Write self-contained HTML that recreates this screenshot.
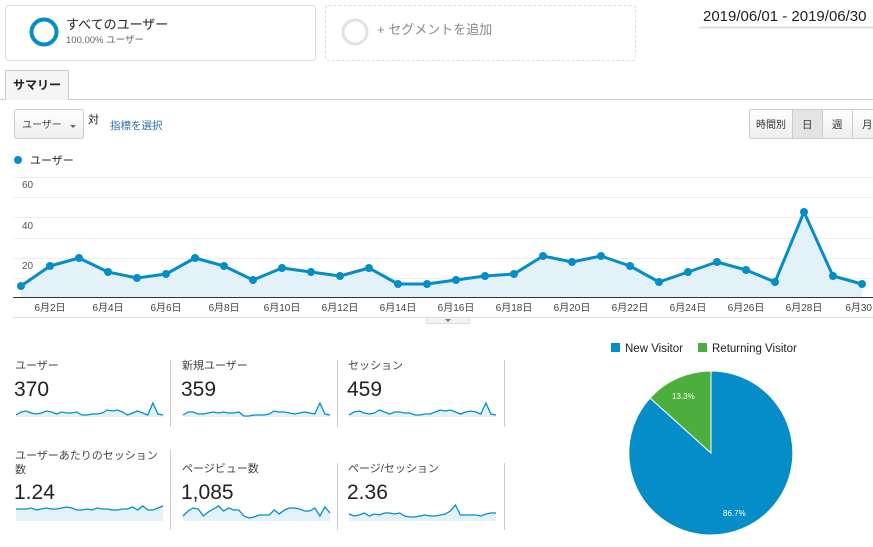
<!DOCTYPE html>
<html><head><meta charset="utf-8"><style>
body{margin:0;background:#fff;width:873px;height:542px;overflow:hidden;font-family:"Liberation Sans","Noto Sans CJK JP",sans-serif}
svg text{font-family:"Liberation Sans","Noto Sans CJK JP",sans-serif}
</style></head><body>
<svg id="s" width="873" height="542" viewBox="0 0 873 542" xmlns="http://www.w3.org/2000/svg">
<defs><linearGradient id="bg" x1="0" y1="0" x2="0" y2="1"><stop offset="0" stop-color="#fff"/><stop offset="1" stop-color="#eee"/></linearGradient></defs>
<rect x="5.5" y="5.5" width="310" height="55" rx="3" fill="#fff" stroke="#ddd"/>
<circle cx="44" cy="32" r="12.5" fill="none" stroke="#058dc7" stroke-width="4"/>
<text x="66" y="29" font-size="13" fill="#222">すべてのユーザー</text>
<text x="66" y="43" font-size="9.5" fill="#666">100.00% ユーザー</text>
<rect x="325.5" y="5.5" width="310" height="55" rx="3" fill="#fff" stroke="#ddd" stroke-dasharray="3,2"/>
<circle cx="355" cy="32" r="12" fill="none" stroke="#e2e2e2" stroke-width="3"/>
<text x="377" y="34" font-size="13" fill="#888">+ セグメントを追加</text>
<text x="703" y="21" font-size="15" fill="#222">2019/06/01 - 2019/06/30</text>
<line x1="699" y1="27.5" x2="873" y2="27.5" stroke="#ddd" stroke-width="2"/>
<line x1="0" y1="99.5" x2="873" y2="99.5" stroke="#ccc"/>
<rect x="5.5" y="70.5" width="63" height="29" fill="#f5f5f5" stroke="#ccc"/>
<line x1="6" y1="99.5" x2="68" y2="99.5" stroke="#f5f5f5"/>
<text x="13" y="89" font-size="12" font-weight="bold" fill="#222">サマリー</text>
<rect x="14.5" y="109.5" width="69" height="29" rx="2" fill="url(#bg)" stroke="#ccc"/>
<text x="22" y="128" font-size="10" fill="#444">ユーザー</text>
<path d="M70 125 l6 0 l-3 3z" fill="#666"/>
<text x="88" y="123" font-size="11" fill="#222">対</text>
<text x="110" y="129" font-size="10.5" fill="#2a6ead">指標を選択</text>
<rect x="749.5" y="109.5" width="130" height="29" rx="2" fill="url(#bg)" stroke="#ccc"/>
<rect x="792.5" y="109.5" width="30" height="29" fill="#e4e4e4" stroke="#ccc"/>
<line x1="852.5" y1="110" x2="852.5" y2="138" stroke="#ccc"/>
<text x="756" y="128" font-size="10" fill="#333">時間別</text>
<text x="802" y="128" font-size="10.5" fill="#333">日</text>
<text x="832" y="128" font-size="10.5" fill="#333">週</text>
<text x="862" y="128" font-size="10.5" fill="#333">月</text>
<circle cx="18" cy="160" r="4" fill="#058dc7"/>
<text x="30" y="164" font-size="11" fill="#222">ユーザー</text>
<g stroke="#eee" stroke-width="1">
<line x1="13" y1="177.5" x2="873" y2="177.5"/><line x1="13" y1="197.5" x2="873" y2="197.5"/>
<line x1="13" y1="217.5" x2="873" y2="217.5"/><line x1="13" y1="238.5" x2="873" y2="238.5"/>
<line x1="13" y1="258.5" x2="873" y2="258.5"/><line x1="13" y1="278.5" x2="873" y2="278.5"/>
</g>
<g font-size="10" fill="#555"><text x="22" y="188">60</text><text x="22" y="229">40</text><text x="22" y="269">20</text></g>
<polygon fill="#e3f1f8" points="21,298 21,286 50,266 79,258 108,272 137,278 166,274 195,258 224,266 253,280 282,268 311,272 340,276 369,268 398,284 427,284 456,280 485,276 514,274 543,256 572,262 601,256 630,266 659,282 688,272 717,262 746,270 775,282 804,212 833,276 862,284 862,298"/>
<line x1="13" y1="297.5" x2="873" y2="297.5" stroke="#333"/>
<polyline fill="none" stroke="#058dc7" stroke-width="3" stroke-linejoin="round" points="21,286 50,266 79,258 108,272 137,278 166,274 195,258 224,266 253,280 282,268 311,272 340,276 369,268 398,284 427,284 456,280 485,276 514,274 543,256 572,262 601,256 630,266 659,282 688,272 717,262 746,270 775,282 804,212 833,276 862,284"/>
<g fill="#058dc7">
<circle cx="21" cy="286" r="4"/><circle cx="50" cy="266" r="4"/><circle cx="79" cy="258" r="4"/><circle cx="108" cy="272" r="4"/><circle cx="137" cy="278" r="4"/><circle cx="166" cy="274" r="4"/><circle cx="195" cy="258" r="4"/><circle cx="224" cy="266" r="4"/><circle cx="253" cy="280" r="4"/><circle cx="282" cy="268" r="4"/><circle cx="311" cy="272" r="4"/><circle cx="340" cy="276" r="4"/><circle cx="369" cy="268" r="4"/><circle cx="398" cy="284" r="4"/><circle cx="427" cy="284" r="4"/><circle cx="456" cy="280" r="4"/><circle cx="485" cy="276" r="4"/><circle cx="514" cy="274" r="4"/><circle cx="543" cy="256" r="4"/><circle cx="572" cy="262" r="4"/><circle cx="601" cy="256" r="4"/><circle cx="630" cy="266" r="4"/><circle cx="659" cy="282" r="4"/><circle cx="688" cy="272" r="4"/><circle cx="717" cy="262" r="4"/><circle cx="746" cy="270" r="4"/><circle cx="775" cy="282" r="4"/><circle cx="804" cy="212" r="4"/><circle cx="833" cy="276" r="4"/><circle cx="862" cy="284" r="4"/>
</g>
<g font-size="10" fill="#444" text-anchor="middle">
<text x="50" y="311">6月2日</text><text x="108" y="311">6月4日</text><text x="166" y="311">6月6日</text><text x="224" y="311">6月8日</text><text x="282" y="311">6月10日</text><text x="340" y="311">6月12日</text><text x="398" y="311">6月14日</text><text x="456" y="311">6月16日</text><text x="514" y="311">6月18日</text><text x="572" y="311">6月20日</text><text x="630" y="311">6月22日</text><text x="688" y="311">6月24日</text><text x="746" y="311">6月26日</text><text x="804" y="311">6月28日</text><text x="872" y="311" text-anchor="end">6月30</text>
</g>
<line x1="13" y1="317.5" x2="873" y2="317.5" stroke="#ddd"/>
<rect x="426.5" y="317.5" width="43" height="6" fill="#f3f3f3" stroke="#ddd"/>
<path d="M445 319 l6 0 l-3 3z" fill="#777"/>
<g stroke="#ccc"><line x1="170.5" y1="360" x2="170.5" y2="427"/><line x1="337.5" y1="360" x2="337.5" y2="427"/><line x1="504.5" y1="360" x2="504.5" y2="427"/>
<line x1="170.5" y1="450" x2="170.5" y2="530"/><line x1="337.5" y1="463" x2="337.5" y2="530"/><line x1="504.5" y1="463" x2="504.5" y2="530"/></g>
<g font-size="11" fill="#444">
<text x="15" y="369">ユーザー</text><text x="182" y="369">新規ユーザー</text><text x="348" y="369">セッション</text>
<text x="15" y="459">ユーザーあたりのセッション</text><text x="15" y="473">数</text><text x="182" y="472">ページビュー数</text><text x="348" y="472">ページ/セッション</text>
</g>
<g font-size="21" fill="#222">
<text x="14" y="396">370</text><text x="181" y="396">359</text><text x="347" y="396">459</text>
<text x="14" y="499">1.24</text><text x="181" y="499">1,085</text><text x="347" y="499">2.36</text>
</g>
<g id="spk"></g>
<rect x="611" y="343" width="9" height="9" fill="#058dc7"/><text x="625" y="352" font-size="11.5" fill="#222">New Visitor</text>
<rect x="698" y="343" width="9" height="9" fill="#4cae3c"/><text x="712" y="352" font-size="11.5" fill="#222">Returning Visitor</text>
<path d="M711,453 L711,371 A82,82 0 1 1 650,398 Z" fill="#058dc7" stroke="#fff" stroke-width="1"/>
<path d="M711,453 L650,398 A82,82 0 0 1 711,371 Z" fill="#4cae3c" stroke="#fff" stroke-width="1"/>
<text x="672" y="399" font-size="8" fill="#fff">13.3%</text>
<text x="723" y="516" font-size="8" fill="#fff">86.7%</text>
</svg>
<script>
var S=[
[16,417,"415 412 411 413 414 413 411 412 414 412 413 413 412 415 415 414 414 413 410 411 410 412 415 413 411 413 415 403 414 415"],
[183,417,"415 412 412 414 414 413 412 413 412 413 413 412 416 416 415 415 415 414 411 412 412 413 414 413 412 413 414 403 414 415"],
[349,417,"415 412 411 413 414 413 410 412 414 412 412 413 413 415 415 414 414 412 410 411 410 412 414 412 411 412 414 403 414 415"],
[16,521,"509 509 509 508 510 509 508 509 509 508 507 508 510 510 509 510 508 509 509 510 510 509 509 507 510 506 510 510 508 506"],
[183,521,"516 511 508 509 516 512 509 506 511 508 510 510 516 518 517 515 515 515 510 514 510 508 508 509 511 511 508 516 507 513"],
[349,521,"514 516 515 513 516 514 515 513 513 514 513 516 517 517 516 515 516 516 515 514 511 505 515 515 515 515 516 514 513 513"]];
var g=document.getElementById('spk'),h='';
S.forEach(function(s){var ys=s[2].split(' '),pts=[];ys.forEach(function(y,i){pts.push((s[0]+i*147/29).toFixed(1)+','+y)});
h+='<polygon fill="#e3f1f8" points="'+s[0]+','+s[1]+' '+pts.join(' ')+' '+(s[0]+147)+','+s[1]+'"/>';
h+='<polyline fill="none" stroke="#058dc7" stroke-width="1.3" points="'+pts.join(' ')+'"/>';});
g.innerHTML=h;
</script>
</body></html>
